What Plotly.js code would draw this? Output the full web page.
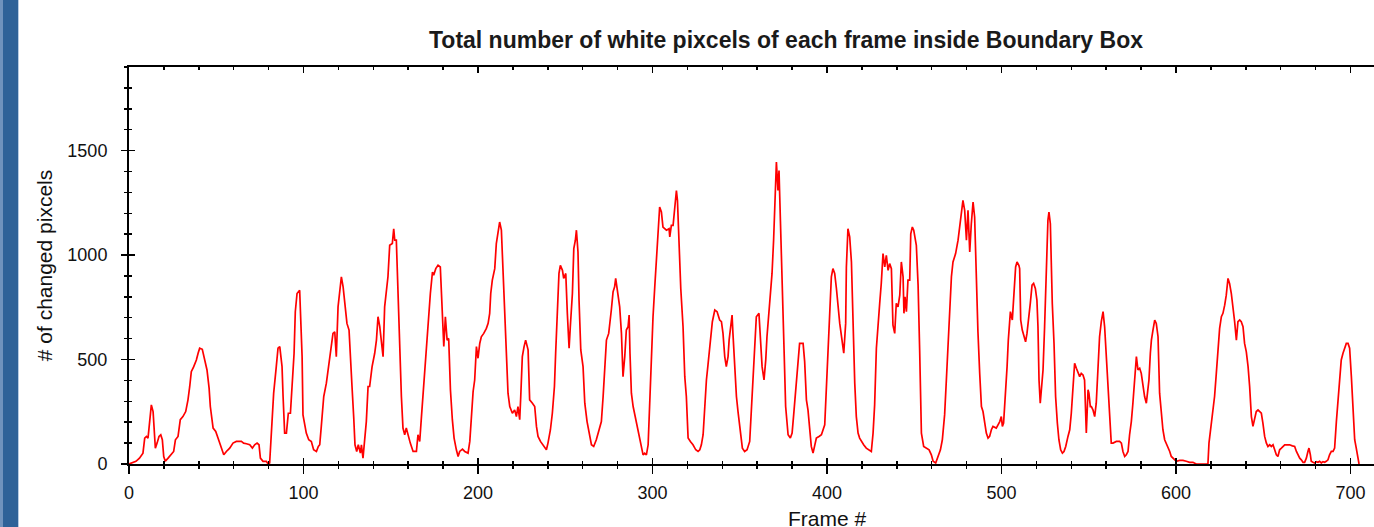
<!DOCTYPE html>
<html>
<head>
<meta charset="utf-8">
<script src="https://cdn.plot.ly/plotly-3.0.1.min.js"></script>
<style>
  html, body { margin: 0; padding: 0; background: #ffffff; overflow: hidden; }
  #wrap { position: relative; width: 1374px; height: 527px; overflow: hidden; background: #ffffff; }
  #chart { position: absolute; left: 0; top: 0; width: 1600px; height: 560px; }
  #barEdge { position: absolute; left: 0; top: 0; width: 3px; height: 527px; background: #6f93bd; z-index: 5; }
  #bar { position: absolute; left: 3px; top: 0; width: 15px; height: 527px; background: #2e6298; z-index: 5; }
  #barLine { position: absolute; left: 18px; top: 0; width: 1px; height: 527px; background: #b7cce3; z-index: 5; }
</style>
</head>
<body>
<div id="wrap">
  <div id="chart"></div>
  <div id="barEdge"></div>
  <div id="bar"></div>
  <div id="barLine"></div>
</div>
<script>
// ---- data ----
const chartTitle = "Total number of white pixcels of each frame inside Boundary Box";
const xTitle = "Frame #";
const yTitle = "# of changed pixcels";

const frames = [
  0,4,6,8,9,10,10.9,11.9,12.8,13.8,14.3,15.1,16.1,17.2,18.2,19.1,19.9,20.8,22.4,24.3,25.6,26.6,28.1,29.4,30.9,32.5,33.8,34.8,35.7,37.1,38.6,39.6,40.5,42,43.4,44.7,45.9,46.6,48.2,49.7,51,52,53.3,54.3,55.8,57.7,59.6,61.5,64.4,65.7,67.3,69.2,70.7,72,73.4,74.5,75.3,76.8,78.7,79.7,80.6,81.6,82.9,84.4,85.4,86.4,87.7,88.3,89.2,90.2,91.3,92.5,93.6,94.6,95.3,96.3,97.8,98.2,99.2,99.7,101.6,103,104.5,105.8,107.4,108.5,109.3,110.2,111.6,113.1,114.6,116,116.9,117.9,118.8,119.8,120.7,121.7,122.7,123.6,124.9,126.1,126.9,127.8,128.8,129.5,130.5,131.4,132.6,133.2,134.1,135.1,136,137,137.9,139.3,140.8,141.8,142.7,143.7,144.6,145.6,146.5,147.5,148.4,149.4,150.9,151.7,152.3,153.2,154.2,155.1,156.1,157,158,158.9,160.1,161.2,162.8,164.7,165.6,
  166.6,167.6,168.5,169.5,170.4,171.4,172.7,173.9,174.6,175.8,177.1,178.4,179.6,180.4,181.3,182.3,183.2,184.2,185.3,186.3,187.6,188.6,189.5,191.1,192.4,194.3,195.3,196.2,197.2,198.1,199.1,200,201,201.9,203.3,204.8,205.8,206.7,207.3,208.2,209.6,210.5,211.5,212.4,213.4,214.4,215.3,216.3,217.2,218.2,219.7,221,222,222.9,223.9,224.5,225.4,226.4,227.3,228.7,229.6,231.2,232.5,233.5,234.4,235.8,237.3,239.2,240.1,241.5,242.6,243.8,244.5,245.3,246.4,247.2,248.4,249.1,250.3,251.2,252.2,252.9,254.1,254.9,255.8,256.4,257.3,257.9,258.9,260.2,261.2,262.5,263.6,265,266.3,267.8,269.4,270.7,271.7,272.6,273.6,274.9,275.9,276.4,277.4,278.3,278.9,280.3,281.2,282.2,283.1,284.1,285,286,286.6,287.1,287.9,288.9,290.4,291.7,292.7,293.6,294.6,295.5,296.5,297.5,298.4,299.4,300.3,301.3,302.2,303.2,304.1,305.1,306,308,309.5,309.9,310.8,311.8,312.7,313.7,314.3,315.2,316.2,317.5,318.5,319.4,320.4,321.7,323.2,324.8,326.1,327.1,328,329,329.9,330.9,331.8,333.2,334.3,335.7,337,338.5,
  339.5,340.4,341.4,342.3,343.3,343.9,344.8,345.6,346.1,347.1,348.1,349,350.3,351.5,352.8,354.2,355.7,356.6,357.6,358.6,359.5,361,361.8,362.8,363.9,364.9,365.6,366.8,367.5,368.5,369.4,370.2,371,371.9,372.5,373.3,374.4,375.4,376.3,377.7,379,380,380.9,382.1,383.4,384.3,385.3,386.3,387.2,388.2,389.1,390.1,391,392,392.9,393.9,395.4,396.8,398.7,399.6,400.6,401.5,402.5,403.4,404.4,405.4,406.3,407.3,408.6,409.6,410.7,411.1,412,413,414,414.9,415.9,416.8,417.8,418.7,419.7,421,422.5,425.4,426.4,427.3,428.3,429.2,430.2,431.1,432.1,433.1,434,435,435.9,436.9,437.8,438.8,439.7,440.7,441.7,442.6,443.6,444.1,444.7,445.5,446.4,447.4,448,448.9,449.7,451.2,452.2,453.1,454.1,455.4,456.9,458.5,459.8,460.8,462.3,463.6,465,466.1,467.4,468.4,469.4,470.3,471.3,472.2,473.7,475.1,476,477,477.9,478.9,479.9,480.8,481.8,482.7,483.7,484.6,485.6,486.5,487.5,488.5,489.4,490.4,491.3,492.3,493.2,494.2,495.1,497,499,499.9,500.5,501.2,502.4,503.2,503.9,505.1,506.2,507,508.1,508.9,510,510.4,
  511,511.9,512.9,513.8,514.6,515.6,516.5,517.5,518.4,519.4,520.3,520.9,521.5,522.2,522.8,523.8,524.7,525.7,526.6,527.2,528,528.5,529.1,530.1,531,532,532.9,533.9,534.9,535.8,536.8,538.1,539.1,540,541,541.9,542.9,543.8,544.8,545.7,546.7,547.6,548.6,549.6,550.1,550.9,551.5,552.4,553.4,554.3,555.3,556.2,557.2,558.2,559.1,560.1,561,562,562.9,563.9,565.8,567.7,568.7,569.6,570.6,571.5,572.5,573.4,574.4,575.3,576.3,577.3,578.2,579.2,580.1,581.1,582,583,583.9,584.5,585.3,585.9,586.8,587.8,588.7,589.7,590.6,591.6,592.5,593.5,594.4,595.4,596.4,597.3,598.3,599.2,600.2,602.1,604,605.9,607.8,609.7,611.6,613.6,615.5,616.4,617.4,618.3,618.9,619.7,620.8,622.1,623.1,624.1,625,626,626.9,627.9,628.8,629.8,630.7,631.7,632.7,633.6,634.6,635.5,636.5,637.4,638.4,639.3,640.3,641.3,642.2,643.2,644.1,645.1,646,647,647.9,648.9,649.8,650.8,651.8,652.7,653.7,654.6,655.6,656.5,657.5,658.4,659.4,660.4,661.3,662.3,663.2,665.1,666.7,668,669,669.9,670.9,671.8,672.8,673.7,674.7,675.6,676.2,677,677.5,678.5,679.5,680.4,681.4,682.3,683.3,684.2,685.2,686.1,687.1,688,689,690,690.9,691.9,692.8,693.8,694.7,695.7,696.6,697.6,698.6,699.5,700.5,701.4,702.4,703.3,704.3,704.9
];

const pixels = [
  0,13,28,52,124,132,124,203,283,251,164,76,100,132,140,116,36,13,28,44,60,116,132,212,227,251,307,371,442,466,498,530,554,549,498,450,363,275,172,156,124,100,60,44,60,76,100,108,108,100,97,92,76,92,100,92,28,13,13,0,5,156,339,466,554,562,466,323,148,148,243,243,387,530,729,816,832,752,514,235,148,116,108,68,60,84,92,180,323,387,482,593,625,633,514,752,808,896,848,784,673,641,537,371,219,92,60,92,52,92,28,116,203,371,371,466,530,593,705,657,593,514,752,816,896,1047,1055,1126,1071,1071,776,593,323,172,140,172,132,100,60,60,140,
  108,227,339,466,562,681,816,919,903,935,951,943,752,562,705,593,601,355,212,124,68,36,60,71,60,52,108,243,347,402,562,506,577,609,625,649,673,721,816,880,935,1055,1102,1158,1119,903,784,546,339,275,243,259,227,275,212,323,514,562,593,546,307,291,275,180,132,108,92,68,100,164,243,371,530,705,912,951,927,888,912,721,554,657,816,1031,1071,1119,1015,784,546,466,291,203,148,92,84,116,164,203,323,466,593,625,689,737,824,848,888,816,752,625,418,514,641,657,713,530,339,275,212,148,108,84,44,52,44,92,275,562,705,848,983,1126,1230,1206,1134,1119,1126,1087,1142,1142,1238,1309,1262,1055,840,657,418,323,124,108,92,68,60,68,92,140,275,402,474,593,681,737,729,689,
  681,625,514,466,514,593,665,713,625,434,323,251,148,76,60,68,108,243,426,585,705,721,617,466,402,498,609,721,816,912,1071,1309,1445,1309,1405,1166,784,546,275,140,124,148,235,355,498,577,577,577,490,307,259,164,84,52,84,124,132,140,188,363,593,769,896,935,912,840,744,673,593,530,673,943,1126,1087,967,673,387,227,148,124,108,92,76,60,148,283,554,673,769,864,1007,943,999,927,959,935,665,625,769,752,808,967,896,721,800,729,880,880,1102,1134,1119,1047,856,546,148,84,76,68,44,13,5,36,68,116,235,402,585,776,896,967,1007,1071,1134,1214,1262,1214,1071,1214,1015,1150,1254,1182,880,633,434,275,251,203,148,124,132,164,180,172,203,227,180,196,339,466,593,729,689,792,943,967,950,935,
  689,641,609,585,625,689,769,856,864,840,784,657,402,291,355,450,657,975,1166,1206,1150,975,769,577,323,196,116,68,52,60,84,132,164,243,378,482,458,434,418,434,426,402,148,355,339,275,275,259,227,291,466,609,681,729,657,498,339,243,100,100,108,108,100,60,36,44,60,140,203,291,402,514,450,458,434,371,323,291,347,402,530,593,641,689,673,609,339,251,164,116,100,84,60,36,28,20,13,17,17,13,8,8,0,0,0,0,0,0,100,156,212,323,434,554,649,705,721,760,808,888,864,816,752,681,593,681,689,681,657,577,537,466,371,227,180,212,251,259,251,243,196,132,100,84,92,84,92,68,44,36,68,76,84,92,92,92,87,84,60,44,28,20,8,8,28,60,76,44,13,8,5,11,8,13,5,11,8,13,20,44,60,60,76,203,307,434,498,530,554,577,577,554,418,291,116,76,20,0
];

const xRange = [0, 800];
const yRange = [0, 1900];
const xTickVals = [0, 100, 200, 300, 400, 500, 600, 700];
const yTickVals = [0, 500, 1000, 1500];
const xMinor = 20;
const yMinor = 100;

// ---- styling ----
const tickFont = { family: "Liberation Sans, Arial, sans-serif", size: 18, color: "#111111" };
const titleFont = { family: "Liberation Sans, Arial, sans-serif", size: 21, color: "#111111" };

const traces = [
  {
    x: frames, y: pixels, type: "scatter", mode: "lines",
    line: { color: "#ff0000", width: 1.7 },
    hoverinfo: "skip", showlegend: false
  },
  {
    x: [null], y: [null], type: "scatter", mode: "lines",
    xaxis: "x2", yaxis: "y2", hoverinfo: "skip", showlegend: false
  }
];

const layout = {
  width: 1600, height: 560,
  margin: { l: 129, r: 75, t: 67, b: 96, autoexpand: false },
  paper_bgcolor: "#ffffff", plot_bgcolor: "#ffffff",
  showlegend: false,
  title: {
    text: "<b>" + chartTitle + "</b>",
    font: { family: "Liberation Sans, Arial, sans-serif", size: 23, color: "#1a1a1a" },
    x: 786 / 1600, xref: "container", xanchor: "center",
    y: 1 - 40 / 560, yref: "container", yanchor: "middle"
  },
  xaxis: {
    range: xRange, tickmode: "array", tickvals: xTickVals,
    ticks: "outside", ticklen: 8, tickwidth: 1.5, tickcolor: "#000",
    showline: true, linewidth: 2, linecolor: "#000",
    showgrid: false, zeroline: false, automargin: false,
    minor: { dtick: xMinor, tick0: 0, ticks: "outside", ticklen: 3, tickwidth: 1.5, tickcolor: "#000", showgrid: false },
    tickfont: tickFont, ticklabelstandoff: 3,
    title: { text: xTitle, font: titleFont, standoff: 10 }
  },
  xaxis2: {
    overlaying: "x", anchor: "y", side: "bottom",
    range: xRange, tick0: 0, dtick: 100,
    ticks: "inside", ticklen: 6, tickwidth: 1.5, tickcolor: "#000",
    showline: true, linewidth: 2, linecolor: "#000", mirror: "ticks",
    showgrid: false, zeroline: false, showticklabels: false, automargin: false,
    minor: { dtick: xMinor, tick0: 0, ticks: "inside", ticklen: 3, tickwidth: 1.5, tickcolor: "#000", showgrid: false }
  },
  yaxis: {
    range: yRange, tickmode: "array", tickvals: yTickVals,
    ticks: "outside", ticklen: 6, tickwidth: 1.5, tickcolor: "#000",
    showline: true, linewidth: 2, linecolor: "#000",
    showgrid: false, zeroline: false, automargin: false,
    minor: { dtick: yMinor, tick0: 0, ticks: "outside", ticklen: 3, tickwidth: 1.5, tickcolor: "#000", showgrid: false },
    tickfont: tickFont, ticklabelstandoff: 10,
    title: { text: yTitle, font: titleFont, standoff: 9 }
  },
  yaxis2: {
    overlaying: "y", anchor: "x", side: "left",
    range: yRange, tick0: 0, dtick: 500,
    ticks: "inside", ticklen: 6, tickwidth: 1.5, tickcolor: "#000",
    showline: false, showgrid: false, zeroline: false, showticklabels: false, automargin: false,
    minor: { dtick: yMinor, tick0: 0, ticks: "inside", ticklen: 3, tickwidth: 1.5, tickcolor: "#000", showgrid: false }
  }
};

Plotly.newPlot("chart", traces, layout, { displayModeBar: false, staticPlot: true });
</script>
</body>
</html>
